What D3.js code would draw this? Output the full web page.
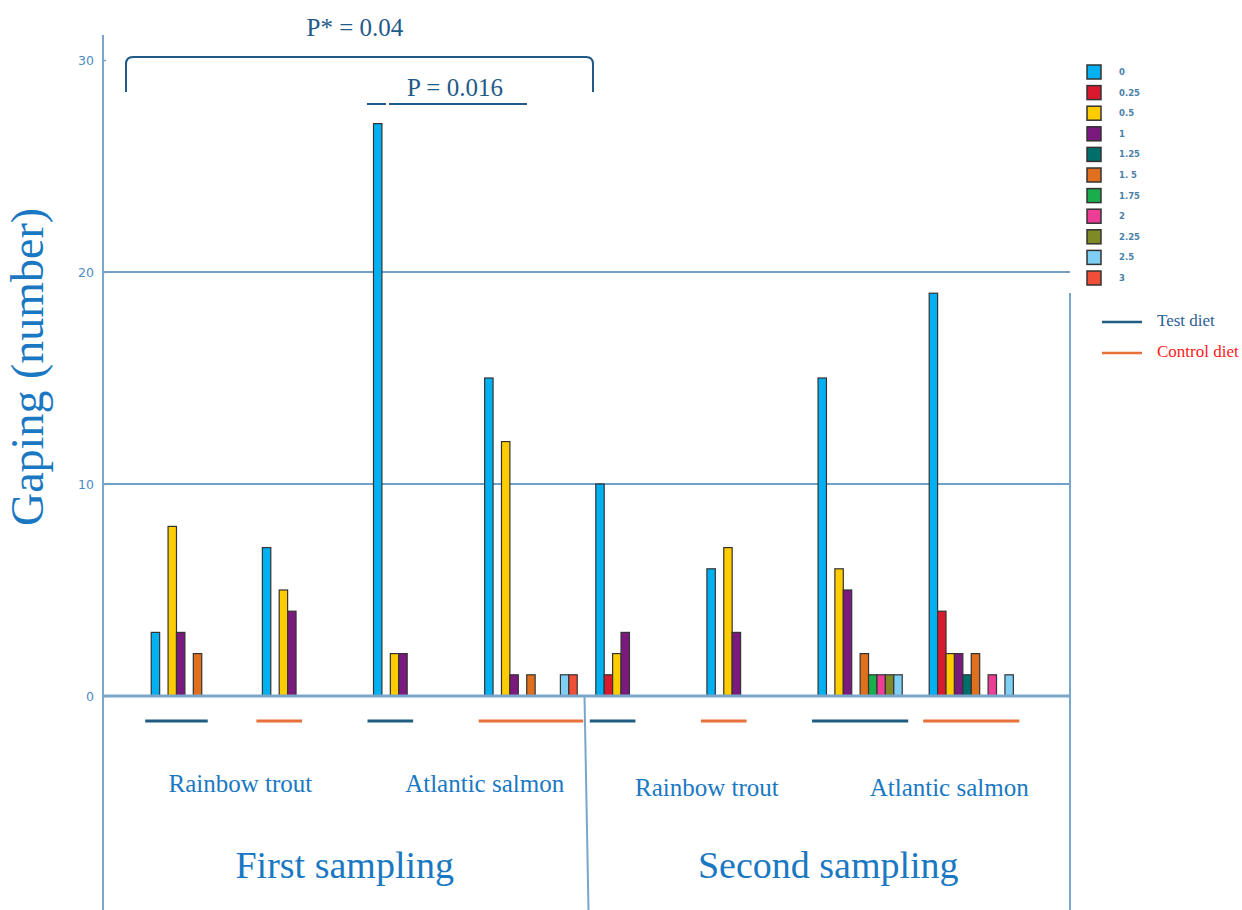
<!DOCTYPE html>
<html lang="en">
  <head>
    <meta charset="UTF-8" />
    <title>Gaping by fat score</title>
    <script src="https://cdn.jsdelivr.net/npm/d3@7"></script>
    <style>
      body {
        margin: 0;
        background-color: #fff;
      }
      svg {
        display: block;
      }
      .serif {
        font-family: 'Liberation Serif', 'Times New Roman', serif;
      }
      .tick text {
        font-family: 'DejaVu Sans', Verdana, sans-serif;
        font-size: 12.5px;
        fill: #4d8ac4;
      }
    </style>
  </head>
  <body>
    <svg width="1242" height="910"></svg>

    <script>
      // gaping score categories (legend keys)
      const scores = ['0', '0.25', '0.5', '1', '1.25', '1.5', '1.75', '2', '2.25', '2.5', '3'];
      const scoreLabels = ['0', '0.25', '0.5', '1', '1.25', '1. 5', '1.75', '2', '2.25', '2.5', '3'];
      const scoreColors = ['#00b0f0', '#d91a2e', '#ffcc00', '#7b1a7e', '#006e6a', '#e0701e',
        '#1aad4b', '#ee3d96', '#7f8a26', '#7fcff5', '#f04e37'];

      // counts per score, one array per group
      const rtTestFirst = [3, 0, 8, 3, 0, 2, 0, 0, 0, 0, 0];
      const rtControlFirst = [7, 0, 5, 4, 0, 0, 0, 0, 0, 0, 0];
      const asTestFirst = [27, 0, 2, 2, 0, 0, 0, 0, 0, 0, 0];
      const asControlFirst = [15, 0, 12, 1, 0, 1, 0, 0, 0, 1, 1];
      const rtTestSecond = [10, 1, 2, 3, 0, 0, 0, 0, 0, 0, 0];
      const rtControlSecond = [6, 0, 7, 3, 0, 0, 0, 0, 0, 0, 0];
      const asTestSecond = [15, 0, 6, 5, 0, 2, 1, 1, 1, 1, 0];
      const asControlSecond = [19, 4, 2, 2, 1, 2, 0, 1, 0, 1, 0];

      const groupValues = [rtTestFirst, rtControlFirst, asTestFirst, asControlFirst,
        rtTestSecond, rtControlSecond, asTestSecond, asControlSecond];
      const groupDiet = ['Test', 'Control', 'Test', 'Control', 'Test', 'Control', 'Test', 'Control'];
      const speciesLabels = ['Rainbow trout', 'Atlantic salmon', 'Rainbow trout', 'Atlantic salmon'];
      const samplingLabels = ['First sampling', 'Second sampling'];
      const yTicks = [0, 10, 20, 30];

      const dietColor = { Test: '#1f5e80', Control: '#e8713a' };
      const blueText = '#1a78c2';
      const annColor = '#1f5a88';
      const lineBlue = '#7aa6cc';

      const svg = d3.select('svg');
      const left = 103;
      const right = 1070;

      const x = d3
        .scaleBand()
        .domain(d3.range(groupValues.length))
        .range([left, right])
        .paddingInner(0.167)
        .paddingOuter(0.434);

      const xInner = d3.scaleBand().domain(scores).range([0, x.bandwidth()]);

      const y = d3.scaleLinear().domain([0, 30]).range([696, 60]);

      // gridlines
      svg
        .selectAll('.grid')
        .data(yTicks.filter((d) => d > 0 && d < 30))
        .enter()
        .append('line')
        .attr('x1', left)
        .attr('x2', right)
        .attr('y1', (d) => y(d))
        .attr('y2', (d) => y(d))
        .attr('stroke', '#4382b4')
        .attr('stroke-width', 1.4);

      // y axis
      const yAxis = d3.axisLeft(y).tickValues(yTicks).tickSize(-3).tickPadding(9);
      const gy = svg.append('g').attr('transform', `translate(${left},0)`).call(yAxis);
      gy.select('.domain').remove();
      gy.selectAll('.tick line').attr('stroke', lineBlue).attr('stroke-width', 1.5);

      svg.append('line')
        .attr('x1', left).attr('x2', left)
        .attr('y1', 35).attr('y2', 910)
        .attr('stroke', lineBlue).attr('stroke-width', 2);

      // bars
      const groupsG = svg
        .selectAll('.group')
        .data(groupValues)
        .enter()
        .append('g')
        .attr('transform', (d, i) => `translate(${x(i)},0)`);

      groupsG
        .selectAll('rect')
        .data((d) => d.map((v, j) => ({ score: scores[j], value: v, color: scoreColors[j] })).filter((e) => e.value > 0))
        .enter()
        .append('rect')
        .attr('x', (d) => xInner(d.score))
        .attr('y', (d) => y(d.value))
        .attr('width', xInner.bandwidth())
        .attr('height', (d) => y(0) - y(d.value))
        .attr('fill', (d) => d.color)
        .attr('stroke', '#333')
        .attr('stroke-width', 1.2);

      // zero baseline
      svg.append('line')
        .attr('x1', left).attr('x2', right)
        .attr('y1', y(0)).attr('y2', y(0))
        .attr('stroke', lineBlue).attr('stroke-width', 3);

      // diet lines under each group
      groupsG
        .append('line')
        .attr('x1', (d) => xInner(scores[d.findIndex((v) => v > 0)]) - 6)
        .attr('x2', (d, i) => {
          let last = 0;
          d.forEach((v, j) => { if (v > 0) last = j; });
          return xInner(scores[last]) + xInner.bandwidth() + 6;
        })
        .attr('y1', 721)
        .attr('y2', 721)
        .attr('stroke', (d, i) => dietColor[groupDiet[i]])
        .attr('stroke-width', 3);

      // dividers
      const divX = (x(3) + x.bandwidth() + x(4)) / 2;
      svg.append('line')
        .attr('x1', divX - 2).attr('x2', divX + 2)
        .attr('y1', y(0)).attr('y2', 910)
        .attr('stroke', lineBlue).attr('stroke-width', 2);
      svg.append('line')
        .attr('x1', right).attr('x2', right)
        .attr('y1', 293).attr('y2', 910)
        .attr('stroke', lineBlue).attr('stroke-width', 2);

      // species labels
      const speciesNudge = [-22, 0, 0, 20];
      svg
        .selectAll('.species')
        .data(speciesLabels)
        .enter()
        .append('text')
        .attr('class', 'serif')
        .attr('x', (d, i) => x(2 * i + 1) + speciesNudge[i])
        .attr('y', (d, i) => (i < 2 ? 792 : 796))
        .attr('text-anchor', 'middle')
        .attr('font-size', 25)
        .attr('fill', blueText)
        .text((d) => d);

      // sampling labels
      const sampCenters = [(left + divX) / 2, (divX + right) / 2];
      svg
        .selectAll('.sampling')
        .data(samplingLabels)
        .enter()
        .append('text')
        .attr('class', 'serif')
        .attr('x', (d, i) => sampCenters[i])
        .attr('y', 878)
        .attr('text-anchor', 'middle')
        .attr('font-size', 38)
        .attr('fill', blueText)
        .text((d) => d);

      // y title
      svg.append('text')
        .attr('class', 'serif')
        .attr('transform', 'translate(43,367) rotate(-90)')
        .attr('text-anchor', 'middle')
        .attr('font-size', 46)
        .attr('fill', blueText)
        .text('Gaping (number)');

      // significance annotations
      svg.append('path')
        .attr('d', 'M126,92 L126,64 Q126,57 133,57 L586,57 Q593,57 593,64 L593,92')
        .attr('fill', 'none')
        .attr('stroke', annColor)
        .attr('stroke-width', 2);
      svg.append('text')
        .attr('class', 'serif')
        .attr('x', 355).attr('y', 36)
        .attr('text-anchor', 'middle')
        .attr('font-size', 25)
        .attr('fill', annColor)
        .text('P* = 0.04');
      svg.append('text')
        .attr('class', 'serif')
        .attr('x', 455).attr('y', 96)
        .attr('text-anchor', 'middle')
        .attr('font-size', 25)
        .attr('fill', annColor)
        .text('P = 0.016');
      svg.append('line')
        .attr('x1', 367).attr('x2', 386).attr('y1', 104).attr('y2', 104)
        .attr('stroke', annColor).attr('stroke-width', 2);
      svg.append('line')
        .attr('x1', 389).attr('x2', 527).attr('y1', 104).attr('y2', 104)
        .attr('stroke', annColor).attr('stroke-width', 2);

      // legend
      const legend = svg.append('g').attr('transform', 'translate(1087,65)');
      const rows = legend
        .selectAll('.row')
        .data(scores)
        .enter()
        .append('g')
        .attr('transform', (d, i) => `translate(0,${i * 20.6})`);
      rows.append('rect')
        .attr('width', 14).attr('height', 14)
        .attr('fill', (d, i) => scoreColors[i])
        .attr('stroke', '#333')
        .attr('stroke-width', 1.5);
      rows.append('text')
        .attr('x', 32).attr('y', 10)
        .attr('font-family', "'DejaVu Sans', Verdana, sans-serif")
        .attr('font-weight', 'bold')
        .attr('font-size', 8.5)
        .attr('fill', '#4a7fa8')
        .text((d, i) => scoreLabels[i]);

      const dietLegend = svg.append('g').attr('transform', 'translate(1102,322)');
      const dietRows = dietLegend
        .selectAll('.diet')
        .data(['Test', 'Control'])
        .enter()
        .append('g')
        .attr('transform', (d, i) => `translate(0,${i * 31})`);
      dietRows.append('line')
        .attr('x1', 0).attr('x2', 40)
        .attr('stroke', (d) => dietColor[d])
        .attr('stroke-width', 2.5);
      dietRows.append('text')
        .attr('class', 'serif')
        .attr('x', 55).attr('y', 4)
        .attr('font-size', 17)
        .attr('fill', (d) => (d === 'Test' ? '#2a5e95' : '#ff1a1a'))
        .text((d) => d + ' diet');
    </script>
  </body>
</html>
